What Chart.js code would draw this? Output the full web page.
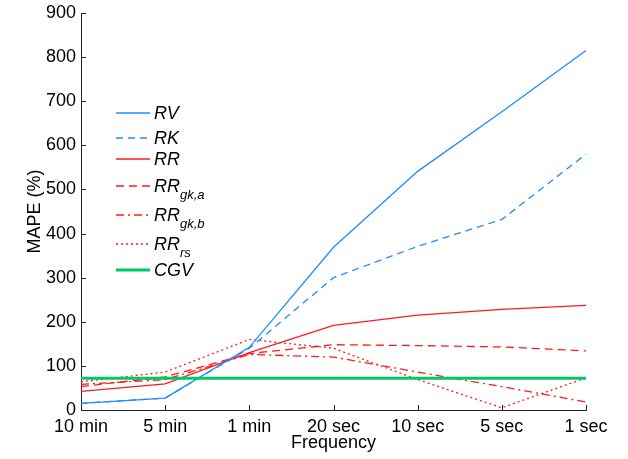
<!DOCTYPE html>
<html>
<head>
<meta charset="utf-8">
<script src="https://cdn.jsdelivr.net/npm/chart.js@4"></script>
<style>
  body { margin: 0; background: #fff; }
  #wrap { position: relative; width: 628px; height: 459px; }
  #legend { position: absolute; left: 0; top: 0; font-family: "Liberation Sans", Arial, sans-serif; font-style: italic; font-size: 18px; color: #000; }
  .item { position: absolute; left: 116px; height: 20px; white-space: nowrap; }
  .item svg { position: absolute; left: 0; top: 6px; }
  .item span { position: absolute; left: 38px; top: 0px; line-height: 20px; }
  .item sub { font-size: 13px; vertical-align: -7px; line-height: 0; }
</style>
</head>
<body>
<div id="wrap">
  <canvas id="chart" width="628" height="459"></canvas>
  <div id="legend"></div>
</div>
<script>
var freqLabels = ['10 min', '5 min', '1 min', '20 sec', '10 sec', '5 sec', '1 sec'];

var rv    = [15, 27, 142, 369, 541, 676, 815];
var rk    = [15, 27, 140, 300, 371, 432, 580];
var rr    = [42, 59, 130, 192, 215, 228, 237];
var rrGkA = [53, 75, 128, 148, 146, 143, 134];
var rrGkB = [58, 69, 126, 120, 86, 53, 18];
var rrRs  = [64, 86, 160, 140, 69, 5, 73];
var cgv   = [72, 72, 72, 72, 72, 72, 72];

var seriesNames = ['RV', 'RK', 'RR', 'RR', 'RR', 'RR', 'CGV'];
var seriesSubs  = ['', '', '', 'gk,a', 'gk,b', 'rs', ''];
var legendRows  = [113, 138, 159, 186, 215, 244, 270];

var blue = '#1e8cff';
var red = '#ff1a1a';
var green = '#00c864';

function line(data, color, dash, width) {
    return {
        data: data,
        borderColor: color,
        backgroundColor: color,
        borderWidth: width || 1.3,
        borderDash: dash || [],
        pointRadius: 0,
        tension: 0,
        fill: false
    };
}

var datasets = [
    line(rv, blue),
    line(rk, blue, [7, 5]),
    line(rr, red),
    line(rrGkA, red, [8, 5]),
    line(rrGkB, red, [8, 4, 2, 4]),
    line(rrRs, red, [2, 3]),
    line(cgv, green, [], 3)
];
datasets.forEach(function(d, i) { d.label = seriesNames[i] + seriesSubs[i]; });
datasets[6].order = -1;

// tick marks drawn inside the plot box
var inwardTicks = {
    id: 'inwardTicks',
    afterDraw: function(chart) {
        var ctx = chart.ctx, area = chart.chartArea;
        var xs = chart.scales.x, ys = chart.scales.y;
        ctx.save();
        ctx.strokeStyle = '#222';
        ctx.lineWidth = 1;
        ctx.setLineDash([]);
        ctx.beginPath();
        ys.ticks.forEach(function(t) {
            var y = Math.round(ys.getPixelForValue(t.value)) + 0.5;
            ctx.moveTo(area.left, y);
            ctx.lineTo(area.left + 5, y);
        });
        xs.ticks.forEach(function(t, i) {
            var x = Math.round(xs.getPixelForTick(i)) + 0.5;
            ctx.moveTo(x, area.bottom);
            ctx.lineTo(x, area.bottom - 5);
        });
        ctx.stroke();
        ctx.restore();
    }
};

var font = { family: '"Liberation Sans", Arial, sans-serif', size: 18 };

var config = {
    type: 'line',
    data: { labels: freqLabels, datasets: datasets },
    options: {
        responsive: false,
        animation: false,
        layout: { padding: { left: 20, right: 42, top: 13, bottom: 0 } },
        scales: {
            x: {
                offset: false,
                grid: { display: false },
                border: { display: true, color: '#222', width: 1 },
                ticks: { color: '#000', font: font, padding: -2, maxRotation: 0, autoSkip: false },
                title: { display: true, text: 'Frequency', color: '#000', font: font, padding: { top: 0, bottom: 5 } },
                afterFit: function(scale) { scale.height = 49; }
            },
            y: {
                min: 0,
                max: 900,
                grid: { display: false },
                border: { display: true, color: '#222', width: 1 },
                ticks: { stepSize: 100, color: '#000', font: font, padding: -3 },
                title: { display: true, text: 'MAPE (%)', color: '#000', font: font, padding: { top: 4, bottom: 0 } },
                afterFit: function(scale) { scale.width = 61; }
            }
        },
        plugins: {
            legend: { display: false },
            tooltip: { enabled: false }
        }
    },
    plugins: [inwardTicks]
};

var chart = new Chart(document.getElementById('chart'), config);

// legend with subscripts, built as HTML over the canvas
var legend = document.getElementById('legend');
datasets.forEach(function(d, i) {
    var item = document.createElement('div');
    item.className = 'item';
    item.style.top = (legendRows[i] - 10) + 'px';
    var dash = d.borderDash.length ? d.borderDash.join(' ') : 'none';
    item.innerHTML =
        '<svg width="34" height="8"><line x1="0" y1="4" x2="34" y2="4" stroke="' + d.borderColor +
        '" stroke-width="' + d.borderWidth + '" stroke-dasharray="' + dash + '"/></svg>' +
        '<span>' + seriesNames[i] + (seriesSubs[i] ? '<sub>' + seriesSubs[i] + '</sub>' : '') + '</span>';
    legend.appendChild(item);
});
</script>
</body>
</html>
